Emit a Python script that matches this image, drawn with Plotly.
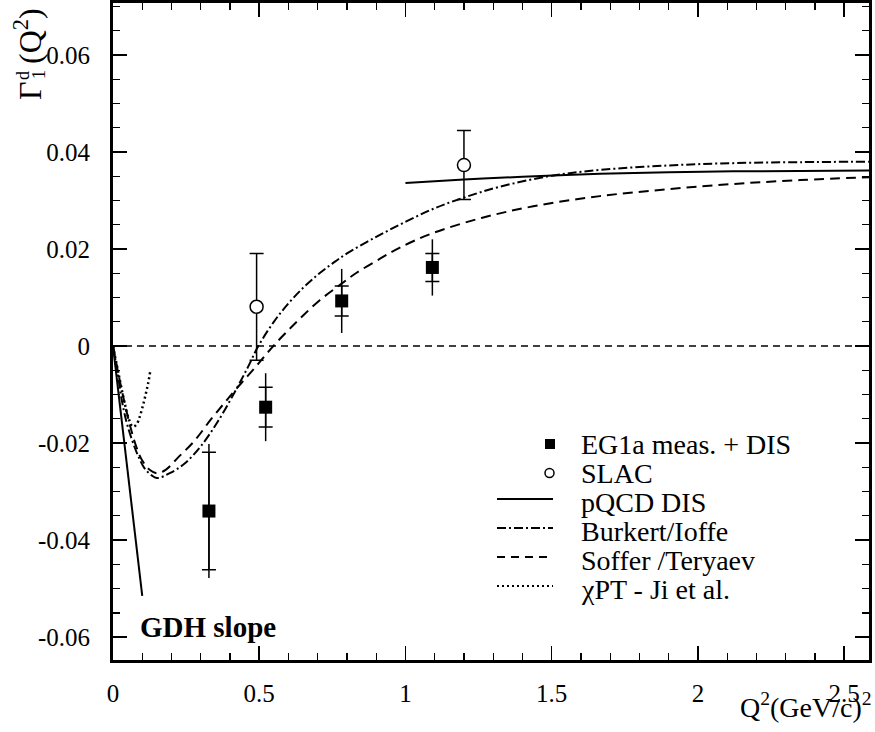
import plotly.graph_objects as go

# ---------------- data ----------------
eg1a_x = [0.328, 0.522, 0.782, 1.092]
eg1a_y = [-0.0340, -0.0126, 0.0093, 0.0162]
eg1a_stat = [0.0121, 0.0041, 0.0031, 0.0029]
eg1a_tot = [0.0138, 0.0070, 0.0066, 0.0058]

slac_x = [0.491, 1.200]
slac_y = [0.0081, 0.0373]
slac_err = [0.0110, 0.0071]

pqcd_x = [1.0, 1.2, 1.4, 1.665, 1.9, 2.12, 2.35, 2.585]
pqcd_y = [0.0336, 0.0343, 0.0349, 0.0355, 0.0358, 0.0360, 0.0361, 0.0362]

burk_x = [0.0, 0.017, 0.029, 0.046, 0.063, 0.085, 0.108, 0.131, 0.150, 0.194, 0.245,
          0.302, 0.359, 0.416, 0.46, 0.497, 0.55, 0.60, 0.65, 0.70, 0.75, 0.80, 0.90,
          1.0, 1.1, 1.2, 1.32, 1.5, 1.665, 1.893, 2.12, 2.35, 2.585]
burk_y = [0.0, -0.0060, -0.0108, -0.0156, -0.0190, -0.0225, -0.0252, -0.0266, -0.0272,
          -0.0262, -0.0242, -0.0205, -0.0155, -0.0095, -0.0045, 0.0, 0.0050, 0.0088,
          0.0120, 0.0147, 0.0170, 0.0191, 0.0225, 0.0256, 0.0284, 0.0306, 0.0328,
          0.0351, 0.0363, 0.0372, 0.0377, 0.0379, 0.0380]

soff_x = [0.0, 0.02, 0.04, 0.06, 0.08, 0.10, 0.125, 0.15, 0.18, 0.222, 0.279, 0.336,
          0.38, 0.416, 0.46, 0.50, 0.548, 0.60, 0.65, 0.708, 0.776, 0.833, 0.913, 0.981,
          1.09, 1.26, 1.437, 1.665, 1.893, 2.12, 2.349, 2.585]
soff_y = [0.0, -0.0062, -0.0118, -0.0168, -0.0208, -0.0236, -0.0255, -0.0262, -0.0255,
          -0.0230, -0.0195, -0.0150, -0.0118, -0.0092, -0.0062, -0.0034, 0.0, 0.0033,
          0.0063, 0.0095, 0.0126, 0.0151, 0.0180, 0.0203, 0.0232, 0.0264, 0.0288,
          0.0309, 0.0323, 0.0334, 0.0342, 0.0348]

chpt_x = [0.0, 0.02, 0.04, 0.055, 0.068, 0.08, 0.09, 0.10, 0.11, 0.12, 0.128]
chpt_y = [0.0, -0.0060, -0.0118, -0.0152, -0.0166, -0.0162, -0.0148, -0.0128, -0.0104,
          -0.0077, -0.0050]

gdh_x = [0.0, 0.1]
gdh_y = [0.0, -0.0515]

x_ticks = [0, 0.5, 1, 1.5, 2, 2.5]
x_tick_labels = ["0", "0.5", "1", "1.5", "2", "2.5"]
y_ticks = [-0.06, -0.04, -0.02, 0, 0.02, 0.04, 0.06]
y_tick_labels = ["-0.06", "-0.04", "-0.02", "0", "0.02", "0.04", "0.06"]

legend_labels = ["EG1a meas. + DIS", "SLAC", "pQCD DIS", "Burkert/Ioffe",
                 "Soffer /Teryaev", "\u03c7PT - Ji et al."]

X_RANGE = [0, 2.585]
Y_RANGE = [-0.0647, 0.0707]

FONT = "Liberation Serif, Times New Roman, Times, serif"
W, H = 875, 732
ML, MR, MT, MB = 113, 6, 3, 72
PW, PH = W - ML - MR, H - MT - MB


def px(xp):
    return (xp - ML) / PW


def py(yp):
    return (H - MB - yp) / PH


fig = go.Figure()

# zero line
fig.add_shape(type="line", xref="x domain", yref="y", x0=0, x1=1, y0=0, y1=0,
              line=dict(color="black", width=1.5, dash="7px,5px"))

# theory curves
fig.add_trace(go.Scatter(x=gdh_x, y=gdh_y, mode="lines",
                         line=dict(color="black", width=2), showlegend=False))
fig.add_trace(go.Scatter(x=pqcd_x, y=pqcd_y, mode="lines", line_shape="spline",
                         line=dict(color="black", width=2), showlegend=False))
fig.add_trace(go.Scatter(x=burk_x, y=burk_y, mode="lines", line_shape="spline",
                         line=dict(color="black", width=2, dash="9px,3px,2px,3px"),
                         showlegend=False))
fig.add_trace(go.Scatter(x=soff_x, y=soff_y, mode="lines", line_shape="spline",
                         line=dict(color="black", width=2, dash="10px,6px"),
                         showlegend=False))
fig.add_trace(go.Scatter(x=chpt_x, y=chpt_y, mode="lines", line_shape="spline",
                         line=dict(color="black", width=2.5, dash="2px,3px"),
                         showlegend=False))

# EG1a: stat errors with cross bars
fig.add_trace(go.Scatter(x=eg1a_x, y=eg1a_y, mode="markers",
                         marker=dict(size=2, color="black"),
                         error_y=dict(type="data", array=eg1a_stat, visible=True,
                                      color="black", thickness=1.5, width=7),
                         showlegend=False))
# EG1a: total errors
fig.add_trace(go.Scatter(x=eg1a_x, y=eg1a_y, mode="markers",
                         marker=dict(symbol="square", size=13, color="black"),
                         error_y=dict(type="data", array=eg1a_tot, visible=True,
                                      color="black", thickness=1.5, width=0),
                         showlegend=False))
# SLAC
fig.add_trace(go.Scatter(x=slac_x, y=slac_y, mode="markers",
                         marker=dict(symbol="circle", size=13, color="white",
                                     line=dict(color="black", width=1.5)),
                         error_y=dict(type="data", array=slac_err, visible=True,
                                      color="black", thickness=1.5, width=7),
                         showlegend=False))

# ------------- manual legend -------------
rows_y = [444, 473, 502, 531, 560, 589]
text_x = 579
for lab, ry in zip(legend_labels, rows_y):
    fig.add_annotation(text=lab, xref="paper", yref="paper", x=px(text_x), y=py(ry),
                       xanchor="left", yanchor="middle", showarrow=False,
                       font=dict(family=FONT, size=28, color="black"))
# square and circle samples
fig.add_shape(type="rect", xref="paper", yref="paper",
              x0=px(545), x1=px(555), y0=py(449), y1=py(439),
              fillcolor="black", line=dict(color="black", width=0))
fig.add_shape(type="circle", xref="paper", yref="paper",
              x0=px(545), x1=px(554), y0=py(477.5), y1=py(468.5),
              fillcolor="white", line=dict(color="black", width=1.5))
line_styles = ["solid", "9px,3px,2px,3px", "8px,6px", "2px,3px"]
for ls, ry in zip(line_styles, rows_y[2:]):
    fig.add_shape(type="line", xref="paper", yref="paper",
                  x0=px(497), x1=px(553), y0=py(ry - 3), y1=py(ry - 3),
                  line=dict(color="black", width=2, dash=ls))

# GDH slope label
fig.add_annotation(text="<b>GDH slope</b>", xref="paper", yref="paper",
                   x=px(138), y=py(627), xanchor="left", yanchor="middle",
                   showarrow=False, font=dict(family=FONT, size=29, color="black"))


# y-axis title pieces (rotated)
def rot(text, xp, yp, size):
    fig.add_annotation(text=text, xref="paper", yref="paper", x=px(xp), y=py(yp),
                       xanchor="center", yanchor="middle", textangle=-90,
                       showarrow=False, font=dict(family=FONT, size=size, color="black"))


rot("\u0393", 30, 91, 32)
rot("d", 23, 76, 18)
rot("1", 39, 75, 18)
rot("(Q<sup>2</sup>)", 28, 36, 32)

# x-axis title
fig.add_annotation(text="Q<sup>2</sup>(GeV/c)<sup>2</sup>", xref="paper", yref="paper",
                   x=px(874), y=py(706), xanchor="right", yanchor="middle",
                   showarrow=False, font=dict(family=FONT, size=28, color="black"))

axis_common = dict(showline=True, linewidth=3, linecolor="black", mirror="ticks",
                   ticks="inside", ticklen=14, tickwidth=1.5, tickcolor="black",
                   showgrid=False, zeroline=False, automargin=False,
                   tickfont=dict(family=FONT, size=25, color="black"))

fig.update_xaxes(range=X_RANGE, tickmode="array", tickvals=x_ticks,
                 ticktext=x_tick_labels, ticklabelstandoff=9,
                 minor=dict(dtick=0.1, ticks="inside", ticklen=7, tickwidth=1.2,
                            tickcolor="black", showgrid=False),
                 **axis_common)
fig.update_yaxes(range=Y_RANGE, tickmode="array", tickvals=y_ticks,
                 ticktext=y_tick_labels, ticklabelstandoff=15,
                 minor=dict(dtick=0.005, tick0=0, ticks="inside", ticklen=7,
                            tickwidth=1.2, tickcolor="black", showgrid=False),
                 **axis_common)

fig.update_layout(width=W, height=H, autosize=False,
                  margin=dict(l=ML, r=MR, t=MT, b=MB, autoexpand=False),
                  paper_bgcolor="white", plot_bgcolor="white",
                  showlegend=False,
                  font=dict(family=FONT, color="black"))

fig.write_html("out.html",
               config={"displayModeBar": False, "staticPlot": True},
               post_script="document.body.style.margin='0';"
                           "document.body.style.overflow='hidden';")
